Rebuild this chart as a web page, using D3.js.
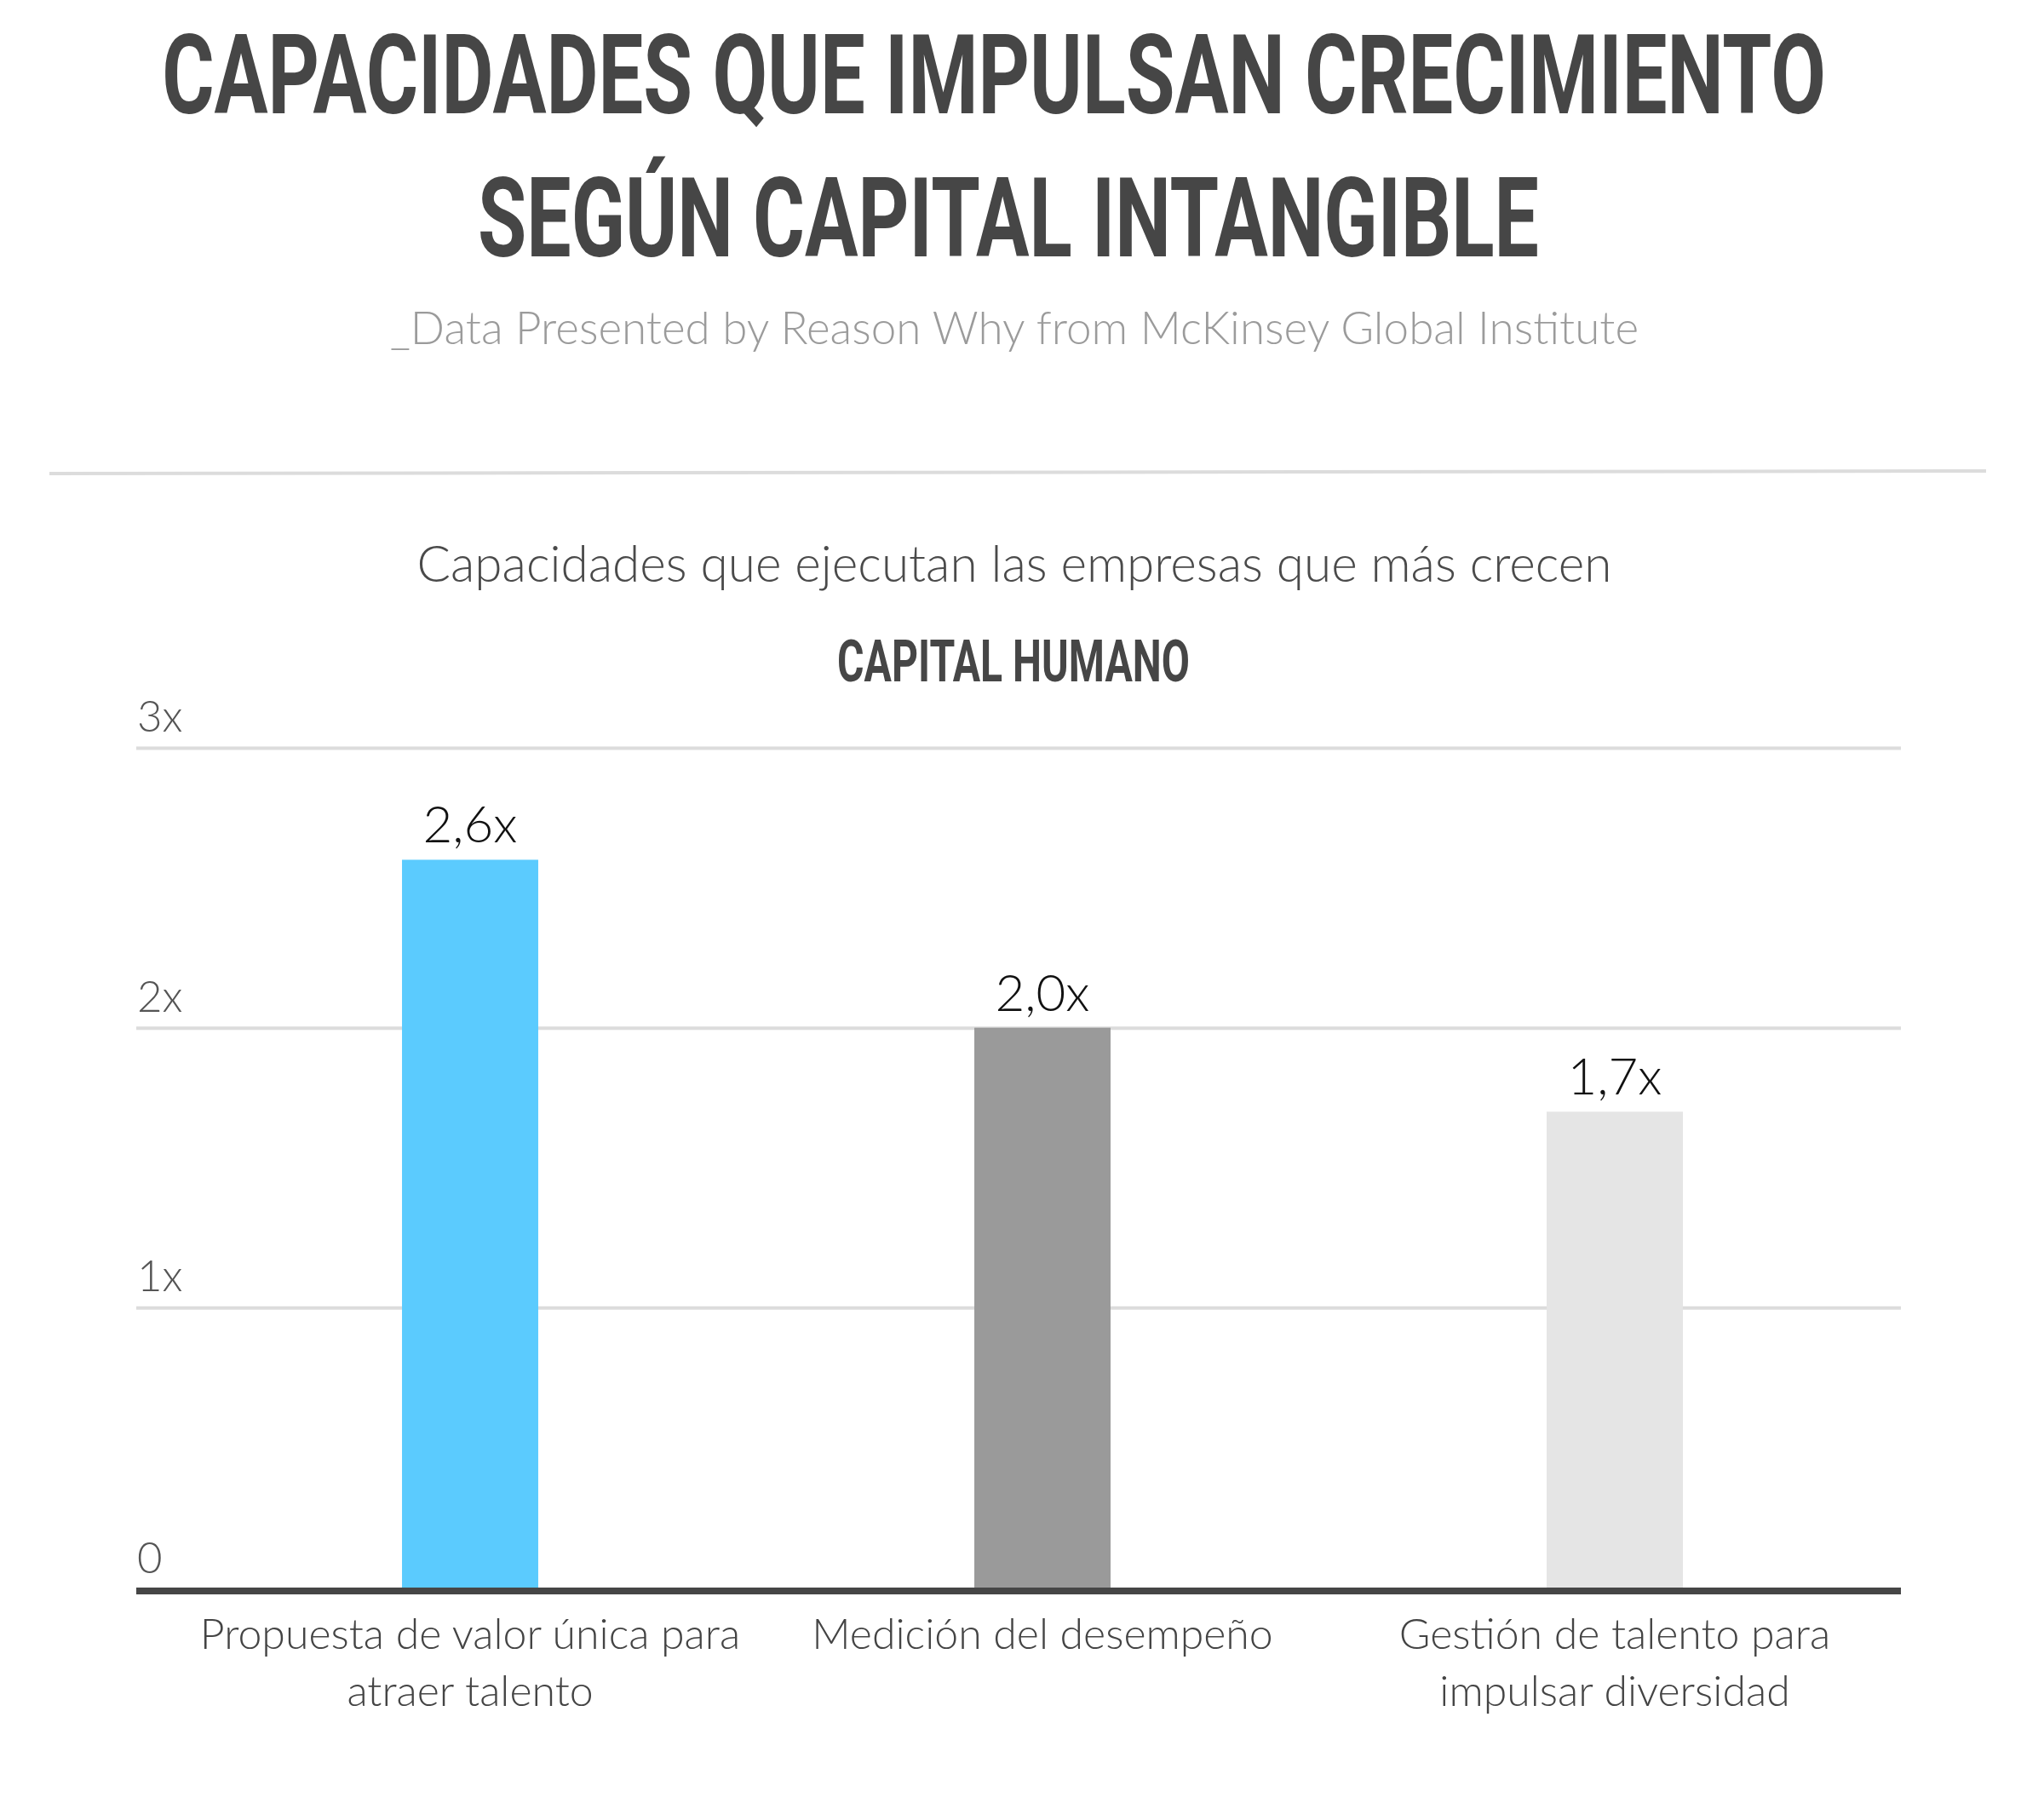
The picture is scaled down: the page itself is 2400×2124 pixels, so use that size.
<!doctype html>
<html lang="es">
<head>
  <meta charset="utf-8" />
  <title>Capacidades que impulsan crecimiento</title>
  <script src="https://cdn.jsdelivr.net/npm/d3@7/dist/d3.min.js"></script>
  <style>
    html, body { margin: 0; padding: 0; background: #fff; }
    svg { display: block; }
    .cond { font-family: Roboto, "Liberation Sans", sans-serif; font-weight: 700; fill: #464646; }
    .light { font-family: Lato, "Open Sans", sans-serif; font-weight: 300; }
  </style>
</head>
<body>
  <div id="chart"></div>
  <script>
    // data
    const categories = ["Propuesta de valor única para atraer talento", "Medición del desempeño", "Gestión de talento para impulsar diversidad"];
    const categoryLines = [["Propuesta de valor única para", "atraer talento"], ["Medición del desempeño"], ["Gestión de talento para", "impulsar diversidad"]];
    const values = [2.6, 2.0, 1.7];
    const tickValues = [0, 1, 2, 3];
    const tickLabels = ["0", "1x", "2x", "3x"];
    const barColors = ["#5bcbfe", "#9a9a9a", "#e5e5e5"];

    const w = 2400;
    const h = 2124;

    const svg = d3.select("#chart").append("svg")
      .attr("width", w)
      .attr("height", h)
      .attr("viewBox", `0 0 ${w} ${h}`);

    svg.append("rect").attr("width", w).attr("height", h).attr("fill", "#fff");

    // condensed headline: draw, measure, squeeze horizontally to the width seen in the picture
    const condensed = (txt, cx, baseline, size, targetWidth) => {
      const g = svg.append("g");
      const t = g.append("text").attr("class", "cond")
        .attr("text-anchor", "middle")
        .attr("font-size", size)
        .text(txt);
      const k = targetWidth / t.node().getComputedTextLength();
      g.attr("transform", `translate(${cx},${baseline}) scale(${k},1)`);
    };

    condensed("CAPACIDADES QUE IMPULSAN CRECIMIENTO", 1167, 133, 129, 1954);
    condensed("SEGÚN CAPITAL INTANGIBLE", 1184, 301, 129, 1246);

    svg.append("text").attr("class", "light")
      .attr("x", 1191).attr("y", 404)
      .attr("text-anchor", "middle")
      .attr("font-size", 53)
      .attr("fill", "#9b9b9b")
      .text("_Data Presented by Reason Why from McKinsey Global Institute");

    svg.append("line")
      .attr("x1", 58).attr("x2", 2332)
      .attr("y1", 556).attr("y2", 553)
      .attr("stroke", "#dcdcdc")
      .attr("stroke-width", 4);

    svg.append("text").attr("class", "light")
      .attr("x", 1191).attr("y", 683)
      .attr("text-anchor", "middle")
      .attr("font-size", 58.5)
      .attr("fill", "#4a4a4a")
      .text("Capacidades que ejecutan las empresas que más crecen");

    condensed("CAPITAL HUMANO", 1190, 800, 68, 414);

    // scales
    const y = d3.scaleLinear().domain([0, 3]).range([1864, 878]);
    const x = d3.scaleBand()
      .domain(categories)
      .range([216, 2232])
      .paddingInner(0.762)
      .paddingOuter(0.381);
    const color = d3.scaleOrdinal().domain(categories).range(barColors);
    const esLocale = d3.formatLocale({ decimal: ",", thousands: ".", grouping: [3], currency: ["", " €"] });
    const fmt = esLocale.format(".1f");

    // gridlines through a left axis
    const gridLeft = 160;
    const gridRight = 2232;
    const yAxis = d3.axisLeft(y)
      .tickValues(tickValues.filter(t => t > 0))
      .tickSize(-(gridRight - gridLeft))
      .tickFormat("");
    svg.append("g")
      .attr("transform", `translate(${gridLeft},0)`)
      .call(yAxis)
      .call(g => g.select(".domain").remove())
      .call(g => g.selectAll(".tick line").attr("stroke", "#dcdcdc").attr("stroke-width", 4));

    svg.append("g")
      .selectAll("text")
      .data(tickValues)
      .enter()
      .append("text")
      .attr("class", "light")
      .attr("x", 161)
      .attr("y", d => y(d) - (d === 0 ? 17 : 19))
      .attr("font-size", 51)
      .attr("fill", "#555")
      .text((d, i) => tickLabels[i]);

    // bars
    const bars = svg.append("g")
      .selectAll("g")
      .data(categories)
      .enter()
      .append("g");

    bars.append("rect")
      .attr("x", d => x(d))
      .attr("y", (d, i) => y(values[i]))
      .attr("width", x.bandwidth())
      .attr("height", (d, i) => y(0) - y(values[i]))
      .attr("fill", d => color(d));

    bars.append("text")
      .attr("class", "light")
      .attr("x", d => x(d) + x.bandwidth() / 2)
      .attr("y", (d, i) => y(values[i]) - 20)
      .attr("text-anchor", "middle")
      .attr("font-size", 60)
      .attr("fill", "#111")
      .text((d, i) => fmt(values[i]) + "x");

    // baseline
    svg.append("line")
      .attr("x1", gridLeft).attr("x2", gridRight)
      .attr("y1", y(0) + 4).attr("y2", y(0) + 4)
      .attr("stroke", "#464646")
      .attr("stroke-width", 8);

    // category labels
    const xAxis = d3.axisBottom(x).tickSize(0).tickFormat("");
    const xg = svg.append("g")
      .attr("transform", `translate(0,${y(0) + 8})`)
      .call(xAxis)
      .call(g => g.select(".domain").remove());

    xg.selectAll(".tick")
      .append("text")
      .attr("class", "light")
      .attr("text-anchor", "middle")
      .attr("font-size", 50)
      .attr("fill", "#444")
      .selectAll("tspan")
      .data((d, i) => categoryLines[i])
      .enter()
      .append("tspan")
      .attr("x", 0)
      .attr("y", (d, i) => 64 + i * 67)
      .text(d => d);
  </script>
</body>
</html>
